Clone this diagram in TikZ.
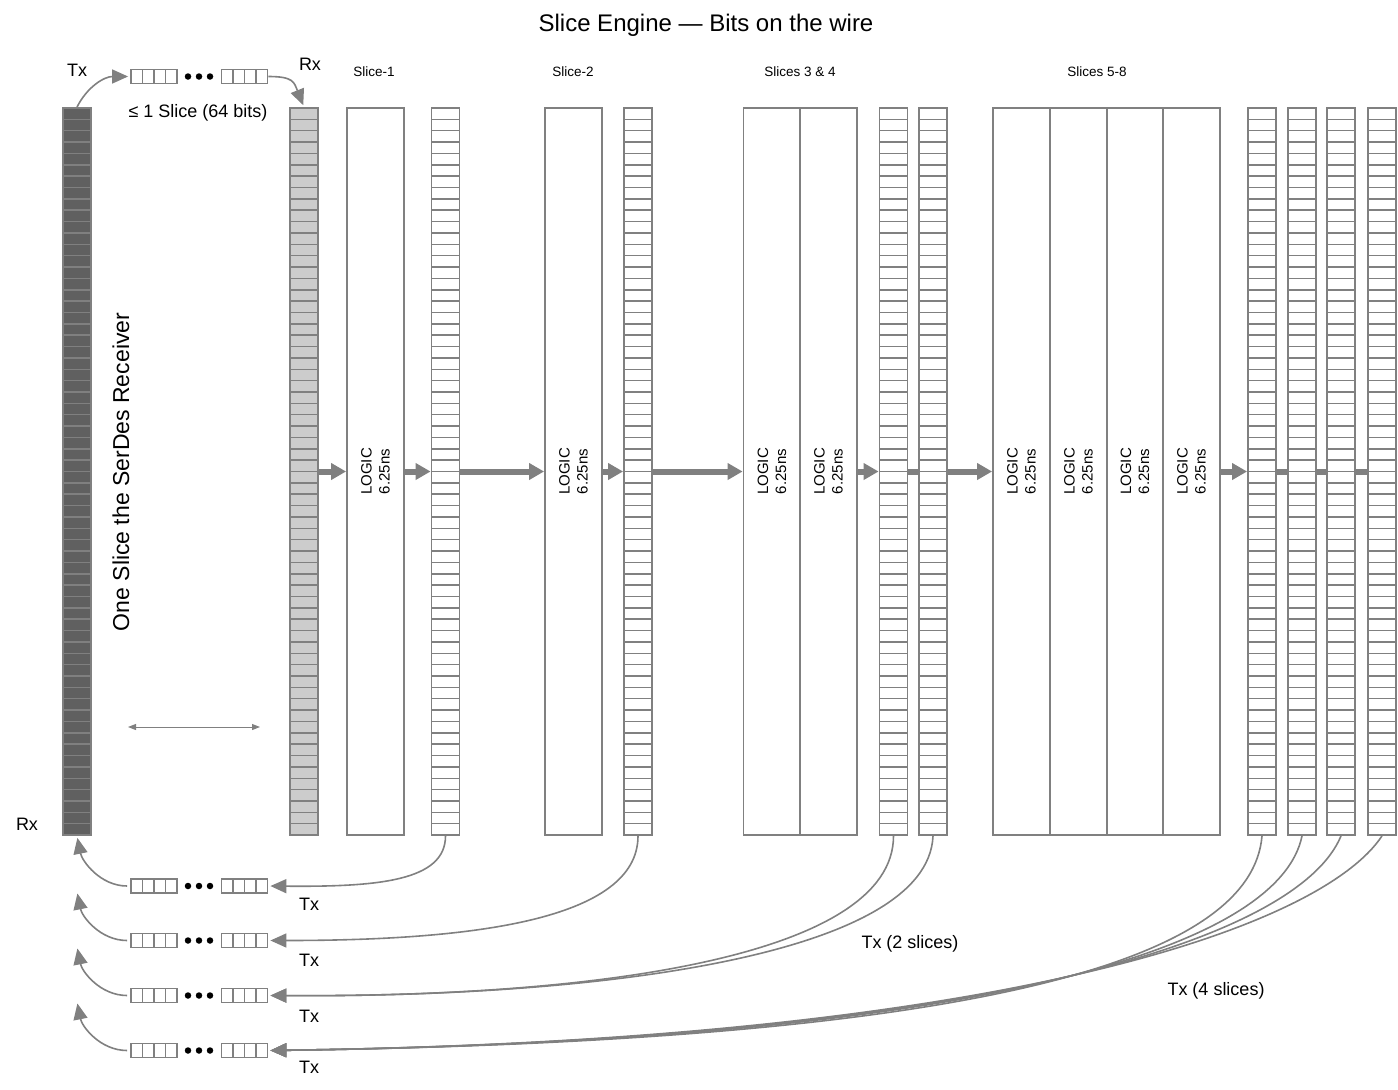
\documentclass[tikz,border=0pt]{standalone}
\usepackage{fontspec}
\setmainfont{Liberation Sans}
\usetikzlibrary{arrows.meta,positioning}
\definecolor{wiregray}{HTML}{808080}
\definecolor{txfill}{HTML}{606060}
\definecolor{rxfill}{HTML}{CCCCCC}
\tikzset{
  bits/.style={
      rectangle,
      inner sep=0pt,
      minimum width=28pt,
      minimum height=727pt,
      line width=1.8pt,
      draw=wiregray,
      path picture={
        \foreach \k in {1,...,63}
          \draw[wiregray,line width=1.5pt]
            ([yshift=-\k*11.36pt]path picture bounding box.north west) --
            ([yshift=-\k*11.36pt]path picture bounding box.north east);
      }
  },
  logic/.style={
      rectangle,
      inner sep=0pt,
      minimum width=57pt,
      minimum height=727pt,
      line width=1.8pt,
      draw=wiregray
  },
  logictext/.style={rotate=90,align=center,inner sep=0pt,font=\fontsize{15}{18}\selectfont},
  qcells/.style={
      rectangle,
      inner sep=0pt,
      minimum width=46pt,
      minimum height=14pt,
      line width=1.8pt,
      draw=wiregray,
      path picture={
        \foreach \k in {1,2,3}
          \draw[wiregray,line width=1.6pt]
            ([xshift=\k*11.5pt]path picture bounding box.north west) --
            ([xshift=\k*11.5pt]path picture bounding box.south west);
      }
  },
  bitdot/.style={circle,fill=black,inner sep=0pt,minimum size=6.5pt},
  flow/.style={draw=wiregray,line width=6pt,-{Triangle[length=15pt,width=16pt]}},
  link/.style={draw=wiregray,line width=6pt},
  wire/.style={draw=wiregray,line width=1.6pt,-{Triangle[length=16pt,width=14pt]},shorten >=2pt},
  lbl/.style={inner sep=0pt,font=\fontsize{18}{22}\selectfont},
  slicelbl/.style={inner sep=0pt,font=\fontsize{13.5}{16}\selectfont}
}
\begin{document}
\begin{tikzpicture}[x=1pt,y=-1pt]
  \useasboundingbox (0,0) rectangle (1398,1090);
  \node[inner sep=0pt,font=\fontsize{24}{28}\selectfont] (title) at (706,25) {Slice Engine — Bits on the wire};

  % serdes side
  \node[bits,fill=txfill] (txcol) at (77,471.5) {};
  \node[bits,fill=rxfill] (rxcol) at (304,471.5) {};
  \node[rotate=90,inner sep=0pt,font=\fontsize{23}{27}\selectfont] (serdes) at (121,472) {One Slice the SerDes Receiver};
  \node[lbl] (txtop) at (77,70) {Tx};
  \node[lbl] (rxtop) at (310,64) {Rx};
  \node[lbl] (rxleft) at (27,824) {Rx};
  \node[lbl] (onebits) at (198,113) {≤ 1 Slice (64 bits)};
  \coordinate (spanl) at (128,727);
  \coordinate (spanr) at (260,727);
  \draw[wiregray,line width=1pt,{Triangle[length=8pt,width=6pt]}-{Triangle[length=8pt,width=6pt]}] (spanl) -- (spanr);

  % logic blocks
  \foreach \name/\x in {logic1/375.5,logic2/573.5,logic3/772,logic4/828.5,logic5/1021.5,logic6/1078.5,logic7/1135,logic8/1191.5}{
    \node[logic] (\name) at (\x,471.5) {};
    \node[logictext] (\name txt) at (\name) {LOGIC\\6.25ns};
  }
  \node[slicelbl] (slice1) at (374,72) {Slice-1};
  \node[slicelbl] (slice2) at (573,72) {Slice-2};
  \node[slicelbl] (slice34) at (800,72) {Slices 3 \& 4};
  \node[slicelbl] (slice58) at (1097,72) {Slices 5-8};

  % output buffers
  \foreach \name/\x in {buf1/445.5,buf2/638,buf3/893.5,buf4/933,buf5/1262,buf6/1302,buf7/1341,buf8/1382}
    \node[bits] (\name) at (\x,471.5) {};

  \draw[flow] (rxcol) -- (logic1);
  \draw[flow] (logic1) -- (buf1);
  \draw[flow] (buf1) -- (logic2);
  \draw[flow] (logic2) -- (buf2);
  \draw[flow] (buf2) -- (logic3);
  \draw[flow] (logic4) -- (buf3);
  \draw[link] (buf3) -- (buf4);
  \draw[flow] (buf4) -- (logic5);
  \draw[flow] (logic8) -- (buf5);
  \draw[link] (buf5) -- (buf6);
  \draw[link] (buf6) -- (buf7);
  \draw[link] (buf7) -- (buf8);

  % wire queues
  \foreach \r/\y in {0/76.5,1/886,2/940.5,3/995.5,4/1050.5}{
    \node[qcells] (qa\r) at (154,\y) {};
    \node[qcells] (qb\r) at (244.5,\y) {};
    \foreach \d/\x in {1/188,2/199,3/210}
      \node[bitdot] (qd\r\d) at (\x,\y) {};
  }
  \foreach \r/\y in {1/904,2/960,3/1016,4/1067}
    \node[lbl] (tx\r) at (309,\y) {Tx};

  \draw[wire] (txcol.north) .. controls +(10,-20) and +(-26,0) .. (qa0.west);
  \draw[wire] (qb0.east) .. controls +(25,0) and +(-10,-25) .. (rxcol.north);

  % back to the receiver
  \draw[wire,shorten <=3pt] (qa1.west) .. controls +(-30,0) and +(5,25) .. (txcol.south);
  \foreach \r/\y in {2/891.5,3/946.5,4/1001.5}{
    \coordinate (ret\r) at (77,\y);
    \draw[wire,shorten <=3pt] (qa\r.west) .. controls +(-30,0) and +(5,25) .. (ret\r);
  }

  \draw[wire] (buf1.south) .. controls +(0,45) and +(110,1) .. (qb1.east);
  \draw[wire] (buf2.south) .. controls +(0,85) and +(200,0) .. (qb2.east);
  \draw[wire] (buf3.south) .. controls +(0,120) and +(330,2) .. (qb3.east);
  \draw[wire] (buf4.south) .. controls +(-5,120) and +(330,2) .. (qb3.east);
  \draw[wire] (buf5.south) .. controls +(-10,120) and +(733,-10) .. (qb4.east);
  \draw[wire] (buf6.south) .. controls +(-22,108) and +(733,-10) .. (qb4.east);
  \draw[wire] (buf7.south) .. controls +(-41,100) and +(733,-10) .. (qb4.east);
  \draw[wire] (buf8.south) .. controls +(-61,92) and +(733,-10) .. (qb4.east);
  \node[lbl] (tx2sl) at (910,944) {Tx (2 slices)};
  \node[lbl] (tx4sl) at (1216,991) {Tx (4 slices)};
\end{tikzpicture}
\end{document}
